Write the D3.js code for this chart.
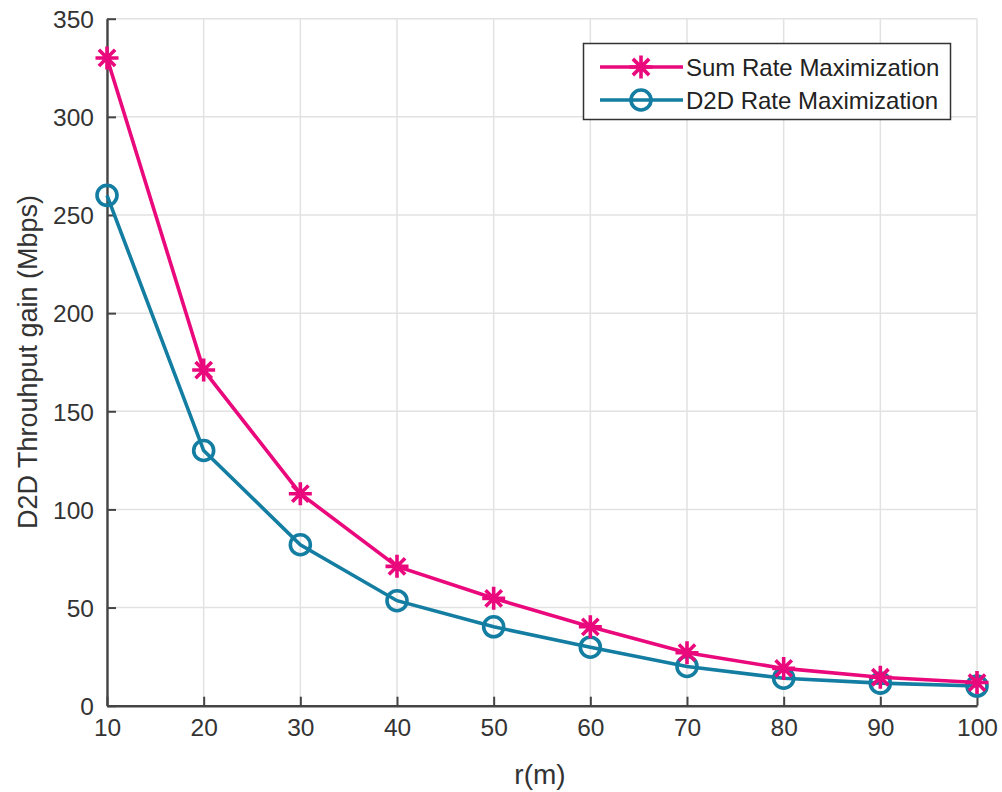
<!DOCTYPE html>
<html>
<head>
<meta charset="utf-8">
<script src="https://cdn.jsdelivr.net/npm/d3@7/dist/d3.min.js"></script>
<style>
  html, body { margin: 0; padding: 0; background: #fff; }
  svg { display: block; font-family: "Liberation Sans", Arial, sans-serif; }
</style>
</head>
<body>
<svg id="chart" width="1002" height="792"></svg>
<script>
// Distance r (m)
const distances = [10, 20, 30, 40, 50, 60, 70, 80, 90, 100];
// D2D throughput gain (Mbps)
const sumRateValues = [330, 171, 108, 71, 54.7, 40.2, 27, 19, 14.5, 11.8];
const d2dRateValues = [260, 130, 82, 53.5, 40.2, 29.8, 20, 14, 11.5, 10];
const seriesNames = ["Sum Rate Maximization", "D2D Rate Maximization"];
const xTicks = [10, 20, 30, 40, 50, 60, 70, 80, 90, 100];
const yTicks = [0, 50, 100, 150, 200, 250, 300, 350];

const pink = "#ea097c";
const teal = "#137da2";
const axisColor = "#444";
const gridColor = "#e2e2e2";

const svg = d3.select("#chart");
const plot = { left: 107, right: 977, top: 18.7, bottom: 705.7 };

const x = d3.scaleLinear().domain([10, 100]).range([plot.left, plot.right]);
const y = d3.scaleLinear().domain([0, 350]).range([plot.bottom, plot.top]);

// grid
const grid = svg.append("g");
grid.selectAll("line.gx").data(xTicks).join("line")
  .attr("x1", d => x(d)).attr("x2", d => x(d))
  .attr("y1", plot.top).attr("y2", plot.bottom)
  .attr("stroke", gridColor).attr("stroke-width", 1.5);
grid.selectAll("line.gy").data(yTicks).join("line")
  .attr("x1", plot.left).attr("x2", plot.right)
  .attr("y1", d => y(d)).attr("y2", d => y(d))
  .attr("stroke", gridColor).attr("stroke-width", 1.5);

// axes with inward ticks
const xAxis = d3.axisBottom(x).tickValues(xTicks).tickSize(-9).tickPadding(22).tickSizeOuter(0);
const yAxis = d3.axisLeft(y).tickValues(yTicks).tickSize(-9).tickPadding(13).tickSizeOuter(0);

const gx = svg.append("g").attr("transform", `translate(0,${plot.bottom})`).call(xAxis);
const gy = svg.append("g").attr("transform", `translate(${plot.left},0)`).call(yAxis);
[gx, gy].forEach(g => {
  g.select(".domain").attr("stroke", axisColor).attr("stroke-width", 2.4);
  g.selectAll(".tick line").attr("stroke", axisColor).attr("stroke-width", 2);
  g.selectAll(".tick text").attr("fill", "#333").attr("font-size", 24.5)
    .attr("font-family", "'Liberation Sans', Arial, sans-serif");
});
gx.selectAll(".tick text").attr("dy", "0.35em");
gy.selectAll(".tick text").attr("dy", "0.36em");

// axis titles
svg.append("text")
  .attr("x", 540).attr("y", 784)
  .attr("text-anchor", "middle").attr("font-size", 28).attr("fill", "#333")
  .text("r(m)");
svg.append("text")
  .attr("transform", `translate(37,362) rotate(-90)`)
  .attr("text-anchor", "middle").attr("font-size", 27).attr("fill", "#333")
  .text("D2D Throuhput gain (Mbps)");

const line = d3.line().x(d => x(d[0])).y(d => y(d[1]));
const sumData = distances.map((d, i) => [d, sumRateValues[i]]);
const d2dData = distances.map((d, i) => [d, d2dRateValues[i]]);

function asteriskPath(r) {
  const k = r * Math.SQRT1_2;
  return `M${-r},0L${r},0M0,${-r}L0,${r}M${-k},${-k}L${k},${k}M${-k},${k}L${k},${-k}`;
}

const lw = 3.6;

// D2D rate series
svg.append("path").datum(d2dData).attr("d", line)
  .attr("fill", "none").attr("stroke", teal).attr("stroke-width", lw);
svg.append("g").selectAll("circle").data(d2dData).join("circle")
  .attr("cx", d => x(d[0])).attr("cy", d => y(d[1])).attr("r", 10)
  .attr("fill", "none").attr("stroke", teal).attr("stroke-width", lw);

// Sum rate series
svg.append("path").datum(sumData).attr("d", line)
  .attr("fill", "none").attr("stroke", pink).attr("stroke-width", lw);
svg.append("g").selectAll("path").data(sumData).join("path")
  .attr("transform", d => `translate(${x(d[0])},${y(d[1])})`)
  .attr("d", asteriskPath(11.5))
  .attr("fill", "none").attr("stroke", pink).attr("stroke-width", lw);

// legend
const legend = svg.append("g");
legend.append("rect")
  .attr("x", 583.5).attr("y", 43.5).attr("width", 367).attr("height", 76)
  .attr("fill", "#fff").attr("stroke", "#333").attr("stroke-width", 1.5);
const items = [
  { name: seriesNames[0], color: pink, marker: "asterisk" },
  { name: seriesNames[1], color: teal, marker: "circle" }
];
items.forEach((it, i) => {
  const cy = 67 + i * 33;
  const g = legend.append("g");
  g.append("line").attr("x1", 600).attr("x2", 683).attr("y1", cy).attr("y2", cy)
    .attr("stroke", it.color).attr("stroke-width", lw);
  if (it.marker === "asterisk") {
    g.append("path").attr("transform", `translate(641,${cy})`).attr("d", asteriskPath(11.5))
      .attr("fill", "none").attr("stroke", it.color).attr("stroke-width", lw);
  } else {
    g.append("circle").attr("cx", 641).attr("cy", cy).attr("r", 10)
      .attr("fill", "none").attr("stroke", it.color).attr("stroke-width", lw);
  }
  g.append("text").attr("x", 686).attr("y", cy).attr("dy", "0.36em")
    .attr("font-size", 24).attr("fill", "#222").text(it.name);
});
</script>
</body>
</html>
